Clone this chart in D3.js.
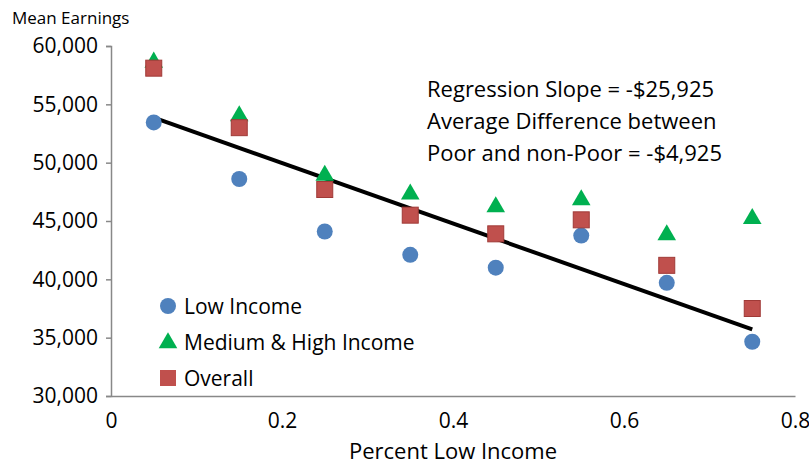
<!DOCTYPE html>
<html><head><meta charset="UTF-8">
<script src="https://d3js.org/d3.v7.min.js"></script>
<style>body{margin:0;background:#fff;font-family:"Open Sans",sans-serif;} text{fill:#000;}</style>
</head><body>
<svg id="c" width="809" height="465"></svg>
<script>
const xs = [0.05, 0.15, 0.25, 0.35, 0.45, 0.55, 0.65, 0.75];
const lowIncome = [53450, 48600, 44100, 42100, 41000, 43750, 39700, 34650];
const medHigh = [58600, 54000, 48900, 47300, 46200, 46800, 43800, 45200];
const overall = [58100, 53000, 47700, 45500, 43900, 45100, 41200, 37500];
const xTicks = [0, 0.2, 0.4, 0.6, 0.8];
const yTicks = [30000, 35000, 40000, 45000, 50000, 55000, 60000];
const slope = -25925, intercept = 55150;

const svg = d3.select("#c");
const x = d3.scaleLinear().domain([0, 0.8]).range([111, 795]);
const y = d3.scaleLinear().domain([30000, 60000]).range([396, 46]);

svg.append("g").attr("transform", "translate(0,396)")
  .call(d3.axisBottom(x).tickValues(xTicks).tickFormat(d => d === 0 ? "0" : d3.format(".1f")(d)).tickSize(0).tickPadding(17))
  .call(g => g.select(".domain").attr("stroke", "#888").attr("stroke-width", 1.5))
  .selectAll("text").attr("font-size", 21).attr("font-family", "Open Sans");
svg.append("g").attr("transform", "translate(111,0)")
  .call(d3.axisLeft(y).tickValues(yTicks).tickFormat(d3.format(",")).tickSize(5).tickPadding(8))
  .call(g => g.selectAll(".domain,line").attr("stroke", "#888").attr("stroke-width", 1.5))
  .selectAll("text").attr("font-size", 21).attr("font-family", "Open Sans");

svg.append("text").attr("x", 12).attr("y", 24).attr("font-size", 17).text("Mean Earnings");
svg.append("text").attr("x", 453).attr("y", 459).attr("text-anchor", "middle").attr("font-size", 22).text("Percent Low Income");

svg.append("line").attr("x1", x(0.05)).attr("y1", y(intercept + slope * 0.05))
  .attr("x2", x(0.75)).attr("y2", y(intercept + slope * 0.75)).attr("stroke", "#000").attr("stroke-width", 4);

const blue = "#4f81bd", green = "#00b050", red = "#c0504d";
const tri = d3.symbol().type(d3.symbolTriangle).size(150);
svg.append("g").selectAll("path").data(xs).join("path").attr("d", tri)
  .attr("transform", (d, i) => `translate(${x(d)},${y(medHigh[i])})`).attr("fill", green);
svg.append("g").selectAll("circle").data(xs).join("circle")
  .attr("cx", d => x(d)).attr("cy", (d, i) => y(lowIncome[i])).attr("r", 8).attr("fill", blue);
svg.append("g").selectAll("rect").data(xs).join("rect")
  .attr("x", d => x(d) - 8).attr("y", (d, i) => y(overall[i]) - 8).attr("width", 16).attr("height", 16)
  .attr("fill", red).attr("stroke", "#a03a37").attr("stroke-width", 1);

const leg = svg.append("g").attr("font-size", 21);
leg.append("circle").attr("cx", 168).attr("cy", 306).attr("r", 8).attr("fill", blue);
leg.append("text").attr("x", 184).attr("y", 314).text("Low Income");
leg.append("path").attr("d", tri).attr("transform", "translate(168,343)").attr("fill", green);
leg.append("text").attr("x", 184).attr("y", 350).text("Medium & High Income");
leg.append("rect").attr("x", 160).attr("y", 370).attr("width", 16).attr("height", 16).attr("fill", red);
leg.append("text").attr("x", 184).attr("y", 386).text("Overall");

const ann = ["Regression Slope = -$25,925", "Average Difference between", "Poor and non-Poor = -$4,925"];
svg.append("g").selectAll("text").data(ann).join("text")
  .attr("x", 427).attr("y", (d, i) => 97 + i * 32).attr("font-size", 22).text(d => d);
</script>
</body></html>
